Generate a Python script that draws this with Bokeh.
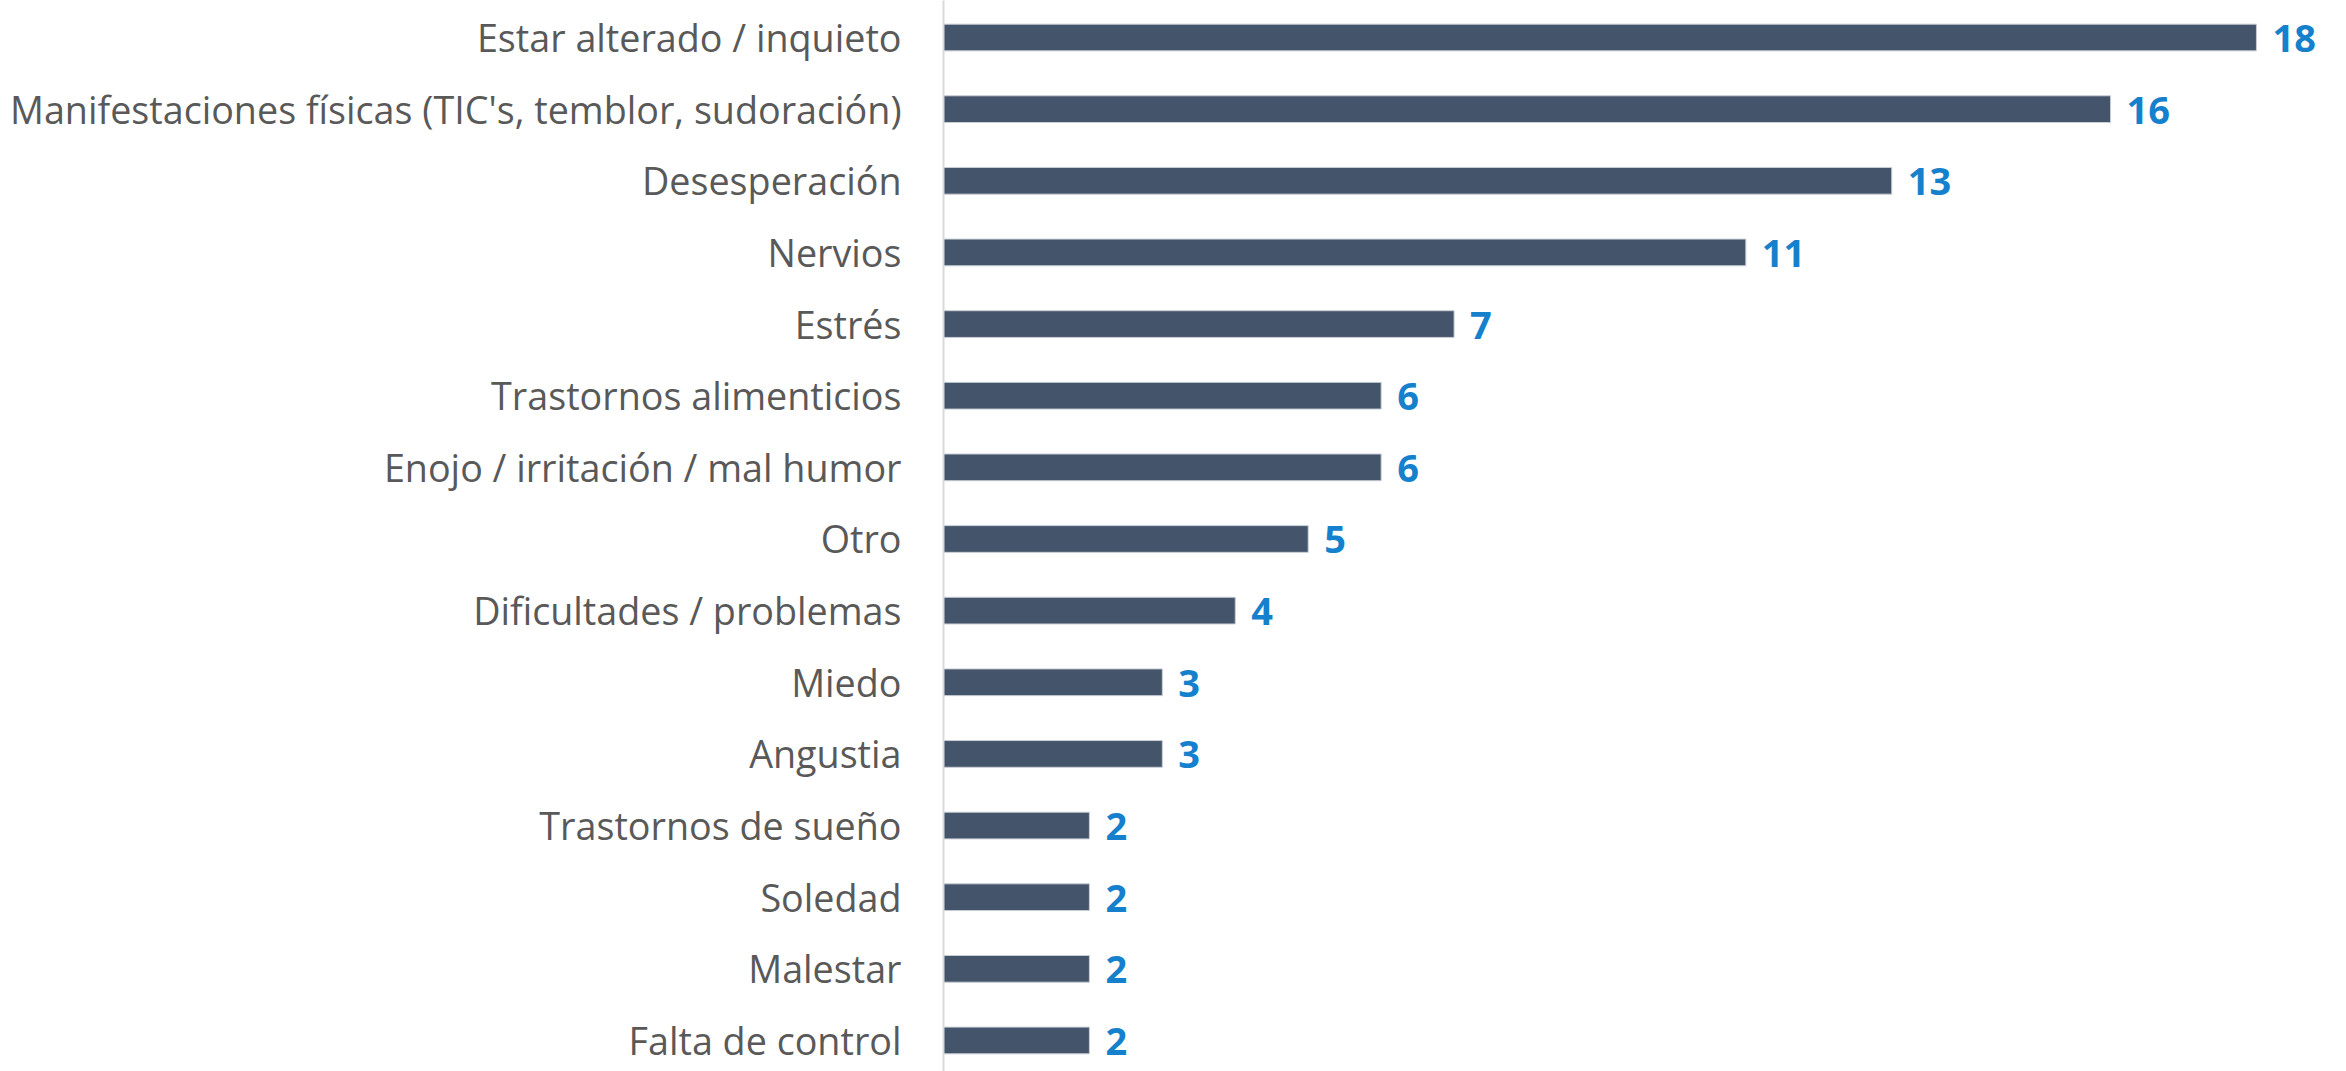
from bokeh.plotting import figure
from bokeh.models import Range1d, FixedTicker, ColumnDataSource
from bokeh.core.properties import value
from bokeh.embed import file_html
from bokeh.resources import INLINE

categories = [
    "Estar alterado / inquieto",
    "Manifestaciones físicas (TIC's, temblor, sudoración)",
    "Desesperación",
    "Nervios",
    "Estrés",
    "Trastornos alimenticios",
    "Enojo / irritación / mal humor",
    "Otro",
    "Dificultades / problemas",
    "Miedo",
    "Angustia",
    "Trastornos de sueño",
    "Soledad",
    "Malestar",
    "Falta de control",
]
counts = [18, 16, 13, 11, 7, 6, 6, 5, 4, 3, 3, 2, 2, 2, 2]

pos = list(range(len(categories)))
src = ColumnDataSource(dict(y=pos, v=counts, lab=[str(c) for c in counts]))

W, H = 2338, 1071
p = figure(width=W, height=H, output_backend="svg", toolbar_location=None,
           x_range=Range1d(0, 19.125), y_range=Range1d(14.433, -0.5165),
           min_border_left=943, min_border_right=0, min_border_top=0, min_border_bottom=0)

p.hbar(y="y", right="v", left=0, height=0.373, source=src,
       fill_color="#44546A", line_color="#C9CED6", line_width=1)

p.text(x="v", y="y", text="lab", source=src, x_offset=16, y_offset=1,
       text_baseline="middle", text_align="left",
       text_font=value("Open Sans"), text_font_style="bold",
       text_font_size="38px", text_color="#1581CC")

p.xaxis.visible = False
p.xgrid.visible = False
p.ygrid.visible = False
p.outline_line_color = None

ya = p.yaxis[0]
ya.ticker = FixedTicker(ticks=pos)
ya.major_label_overrides = {i: c for i, c in enumerate(categories)}
ya.major_tick_line_color = None
ya.minor_tick_line_color = None
ya.axis_line_color = "#D9D9D9"
ya.axis_line_width = 2
ya.major_label_standoff = 36
ya.major_label_text_font = "Open Sans"
ya.major_label_text_font_size = "37.7px"
ya.major_label_text_color = "#595959"

open("out.html", "w").write(file_html(p, INLINE))
